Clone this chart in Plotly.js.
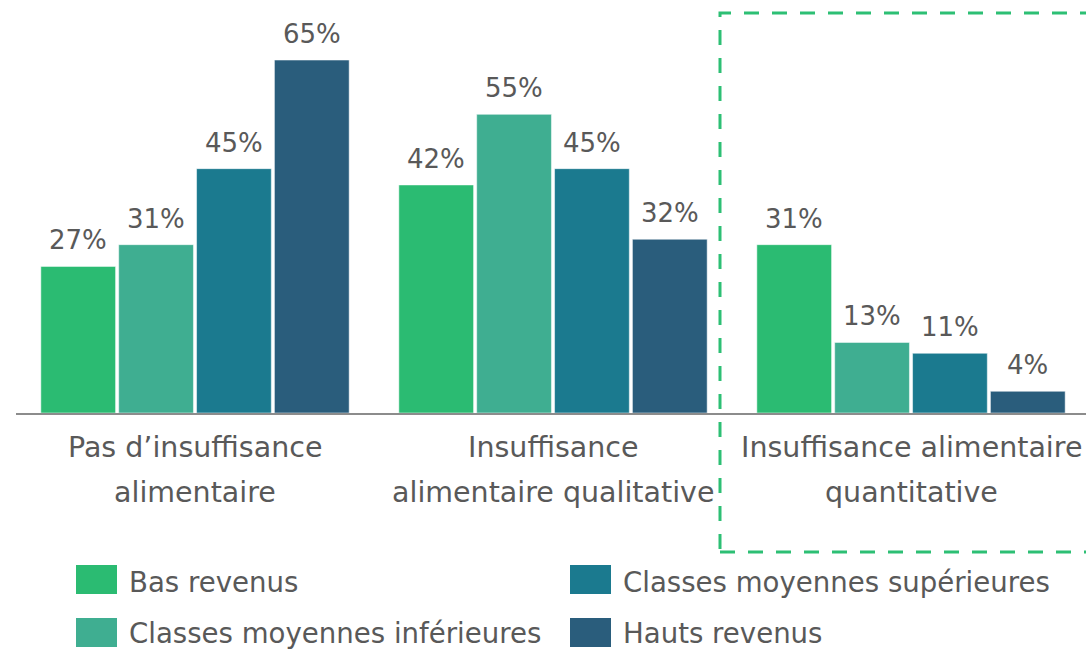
<!DOCTYPE html>
<html><head><meta charset="utf-8">
<script src="https://cdn.plot.ly/plotly-3.0.1.min.js"></script>
<style>html,body{margin:0;padding:0;background:#fff;overflow:hidden}</style>
</head><body><div id="chart" style="width:1086px;height:650px"></div>
<script>
// ---- data ----
const categories = ["Pas d’insuffisance alimentaire", "Insuffisance alimentaire qualitative", "Insuffisance alimentaire quantitative"];
const labelLine1 = ["Pas d’insuffisance", "Insuffisance", "Insuffisance alimentaire"];
const labelLine2 = ["alimentaire", "alimentaire qualitative", "quantitative"];
const seriesNames = ["Bas revenus", "Classes moyennes inférieures", "Classes moyennes supérieures", "Hauts revenus"];
const basRevenus = [27, 42, 31];
const classesMoyennesInferieures = [31, 55, 13];
const classesMoyennesSuperieures = [45, 45, 11];
const hautsRevenus = [65, 32, 4];
const seriesValues = [basRevenus, classesMoyennesInferieures, classesMoyennesSuperieures, hautsRevenus];
const colors = ["#2bbb72", "#3fae91", "#1b7a8f", "#2a5d7c"];

// ---- layout geometry ----
const W = 1086, H = 650, ML = 16, MR = 0, MT = 0, MB = 237;
const PW = W - ML - MR, PH = H - MT - MB;
const CAT_PX = 358;           // pixels per category
const BARGAP = 0.13, BARGROUPGAP = 0.04;
const px2x = p => (p - ML) / PW;
const py2y = p => (H - MB - p) / PH;
const FONT = "DejaVu Sans";
const TXT = "#595959";

const traces = seriesNames.map((name, i) => ({
  type: "bar",
  name: name,
  x: categories,
  y: seriesValues[i],
  marker: {color: colors[i], line: {color: "#ffffff", width: 0.5}},
  textposition: "none",
  hoverinfo: "x+y",
  showlegend: false
}));

const annotations = [];
// value labels above each bar (offset by the series slot inside its group)
const slotPx = (1 - BARGAP) / seriesNames.length * CAT_PX;
seriesValues.forEach((vals, i) => {
  vals.forEach((v, j) => {
    annotations.push({xref: "x", yref: "y", x: categories[j], y: v, xanchor: "center", yanchor: "bottom",
      xshift: (i - (seriesNames.length - 1) / 2) * slotPx, yshift: 9,
      text: v + "%", showarrow: false, font: {family: FONT, size: 26, color: TXT}});
  });
});
// category labels (two lines)
categories.forEach((c, i) => {
  annotations.push({xref: "x", yref: "paper", x: c, y: 0, yshift: -34, yanchor: "middle", xanchor: "center",
    text: labelLine1[i], showarrow: false, font: {family: FONT, size: 28.5, color: TXT}});
  annotations.push({xref: "x", yref: "paper", x: c, y: 0, yshift: -79, yanchor: "middle", xanchor: "center",
    text: labelLine2[i], showarrow: false, font: {family: FONT, size: 28.5, color: TXT}});
});

const shapes = [];
// custom legend (column-major: Bas, CMI | CMS, HR)
seriesNames.forEach((name, i) => {
  const col = Math.floor(i / 2), row = i % 2;
  const sx0 = 76 + col * 494, sx1 = 117 + col * 494;
  const sy0 = 565 + row * 53, sy1 = 594 + row * 53;
  shapes.push({type: "rect", xref: "paper", yref: "paper", x0: px2x(sx0), x1: px2x(sx1), y0: py2y(sy1), y1: py2y(sy0),
    fillcolor: colors[i], line: {width: 0}});
  annotations.push({xref: "paper", yref: "paper", x: px2x(127 + col * 494), y: py2y(582 + row * 51),
    xanchor: "left", yanchor: "middle", text: name, showarrow: false, font: {family: FONT, size: 27.6, color: TXT}});
});
// dashed highlight box
shapes.push({type: "rect", xref: "paper", yref: "paper", x0: px2x(720), x1: px2x(1100), y0: py2y(552), y1: py2y(13),
  line: {color: "#2dbf74", width: 3, dash: "15px,13px"}, fillcolor: "rgba(0,0,0,0)"});

const layout = {
  width: W, height: H,
  margin: {l: ML, r: MR, t: MT, b: MB},
  paper_bgcolor: "#ffffff", plot_bgcolor: "#ffffff",
  barmode: "group", bargap: BARGAP, bargroupgap: BARGROUPGAP,
  showlegend: false,
  font: {family: FONT, color: TXT},
  xaxis: {type: "category", range: [-0.5, -0.5 + PW / CAT_PX], showticklabels: false, ticks: "",
    showline: true, linecolor: "#8c8c8c", linewidth: 2, showgrid: false, zeroline: false, fixedrange: true},
  yaxis: {range: [0, PH / 5.43], visible: false, showgrid: false, zeroline: false, fixedrange: true},
  annotations: annotations,
  shapes: shapes
};

Plotly.newPlot("chart", traces, layout, {displayModeBar: false, staticPlot: true});
</script>
</body></html>
